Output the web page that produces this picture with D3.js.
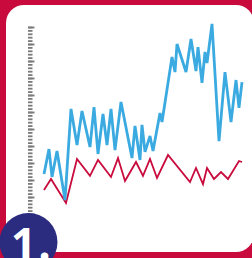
<!DOCTYPE html>
<html>
<head>
<meta charset="utf-8">
<script src="https://cdn.jsdelivr.net/npm/d3@7"></script>
<style>
  html, body { margin: 0; padding: 0; background: #c90a3c; }
  svg { display: block; }
</style>
</head>
<body>
<div class="plot"></div>
<script>
// series values (t = time step, v = value)
var blueT = [0, 2.5, 4, 6.5, 10.5, 13.5, 16.5, 19, 23, 25, 27, 29.5, 31.5, 33.5, 35.5, 38.5,
    44, 45.5, 48, 49, 50.5, 53, 54.5, 58, 59, 64, 65.5, 66.5, 71, 73.5, 76, 77, 79, 80.5,
    81.5, 84, 87.5, 90.5, 93.5, 96, 97.5, 99];
var blueV = [23.5, 38.2, 21.8, 37.1, 8.2, 61.8, 40.6, 60.6, 39.4, 62.9, 35.3, 58.8, 40.6,
    61.8, 37.6, 65.9, 32.9, 51.8, 31.8, 52.4, 36.5, 45.9, 37.1, 59.4, 54.1, 92.4, 83.5,
    100, 83.5, 102.9, 84.1, 98.2, 77.1, 95.3, 88.8, 111.8, 42.9, 83.5, 54.1, 78.8, 62.4, 77.6];

var redT = [0, 3.5, 11, 16.5, 23, 27, 33.5, 37, 40.5, 46, 49.5, 53, 56.5, 62, 73, 76, 79.5,
    81.5, 85, 88.5, 92, 97.5, 99];
var redV = [14.1, 20.6, 6.5, 32.4, 22.4, 31.8, 21.8, 32.9, 19.4, 30.6, 22.4, 32.4, 21.2,
    34.7, 18.8, 27.1, 17.6, 27.1, 20.6, 24.7, 20.6, 31.2, 30.6];

var yMax = 110, minorStep = 2, majorStep = 10;
var badge = "1.";

var W = 252, H = 258;

var svg = d3.select('.plot').append('svg')
    .attr('width', W).attr('height', H);

// frame
svg.append('rect')
    .attr('width', W).attr('height', H)
    .attr('fill', '#c90a3c');
svg.append('rect')
    .attr('x', 6).attr('y', 5)
    .attr('width', 248).attr('height', 247)
    .attr('rx', 18).attr('ry', 18)
    .attr('fill', '#ffffff');

var x = d3.scaleLinear().domain([0, 99]).range([44, 242]);
var y = d3.scaleLinear().domain([0, yMax]).range([214, 27]);

// axis ticks (no labels)
var minorTicks = d3.range(0, yMax + 0.001, minorStep);
var majorTicks = d3.range(0, yMax + 0.001, majorStep);

function tickAxis(values, size){
    var g = svg.append('g')
        .attr('transform', 'translate(28,0)')
        .call(d3.axisRight(y).tickValues(values).tickSize(size).tickFormat(''));
    g.select('.domain').remove();
    g.selectAll('.tick line')
        .attr('stroke', '#7a7a7a')
        .attr('stroke-width', 1.8);
}
tickAxis(minorTicks, 4.5);
tickAxis(majorTicks, 6.5);

function series(ts, vs){
    return ts.map(function(t, i){ return {t: t, v: vs[i]}; });
}

var line = d3.line()
    .x(function(d){ return x(d.t); })
    .y(function(d){ return y(d.v); });

svg.append('path')
    .datum(series(redT, redV))
    .attr('d', line)
    .attr('fill', 'none')
    .attr('stroke', '#c90a3c')
    .attr('stroke-width', 1.8);

svg.append('path')
    .datum(series(blueT, blueV))
    .attr('d', line)
    .attr('fill', 'none')
    .attr('stroke', '#3aaae1')
    .attr('stroke-width', 2.8);

// badge (the number runs off the bottom edge, as in the original)
svg.append('circle')
    .attr('cx', 28.5).attr('cy', 242).attr('r', 29)
    .attr('fill', '#2b2c80');
svg.append('text')
    .attr('x', 11).attr('y', 260)
    .attr('fill', '#ffffff')
    .attr('font-family', '"Open Sans", sans-serif')
    .attr('font-weight', 'bold')
    .attr('font-size', 44)
    .attr('letter-spacing', 2)
    .text(badge);
</script>
</body>
</html>
